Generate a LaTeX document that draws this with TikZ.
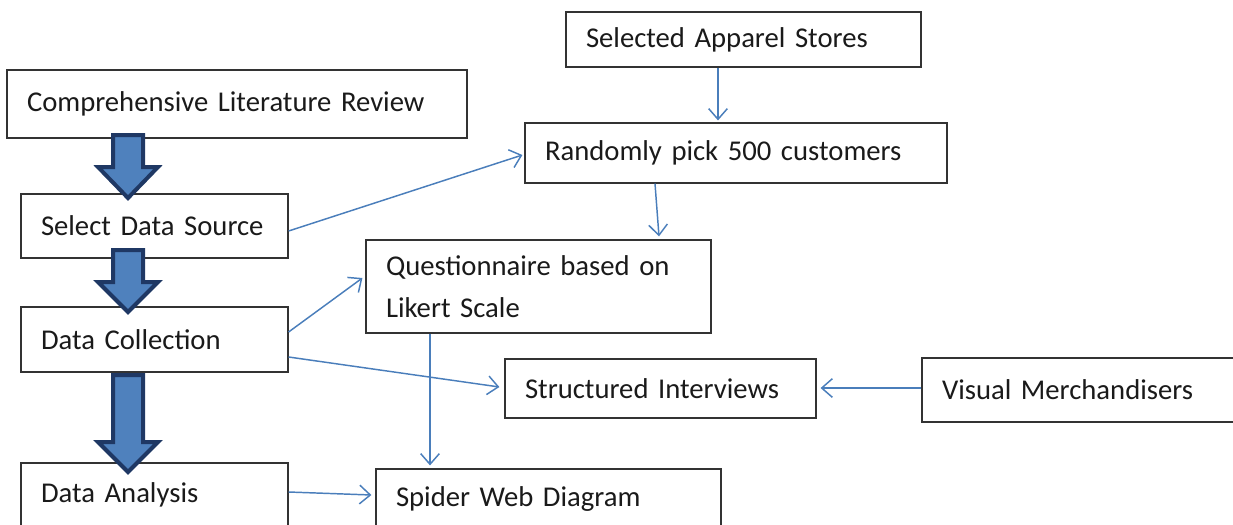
\documentclass[tikz,border=0pt]{standalone}
\usepackage{fontspec}
\setmainfont{Carlito}
\usetikzlibrary{calc,arrows.meta}
\definecolor{linkblue}{HTML}{4A7EBB}
\definecolor{arrowfill}{HTML}{4F81BD}
\definecolor{arrowedge}{HTML}{1F3864}
\definecolor{boxedge}{HTML}{333333}
\definecolor{inktext}{HTML}{1A1A1A}
\tikzset{
  box/.style={draw=boxedge, line width=0.9pt, fill=white, inner xsep=15pt, inner ysep=2pt,
    align=left, text=inktext, font=\fontsize{21.5}{31.5}\selectfont},
  conn/.style={draw=linkblue, line width=1.1pt, -{Straight Barb[length=8pt,width=14pt,line width=1.1pt]}},
  blockarrow/.style={fill=arrowfill, draw=arrowedge, line width=3pt, line join=miter}
}
\begin{document}
\begin{tikzpicture}[x=0.75pt, y=-0.75pt]
\useasboundingbox (0,0) rectangle (1233,525);
\clip (0,0) rectangle (1233,525);

% left column: process steps
\node[box, text width=315pt, minimum height=51pt] (lit) at (237,104) {Comprehensive Literature Review};
\node[box, text width=170.25pt, minimum height=48pt] (sds) at (154.5,226) {Select Data Source};
\node[box, text width=170.25pt, minimum height=48.75pt] (dc) at (154.5,339.5) {Data Collection};
\node[box, text width=170.25pt, minimum height=48pt] (da) at (154.5,495) {Data Analysis};

% sampling branch
\node[box, text width=236.25pt, minimum height=41.25pt] (sas) at (743.5,39.5) {Selected Apparel Stores};
\node[box, text width=286.5pt, minimum height=45pt] (rnd) at (736,153) {Randomly pick 500 customers};
\node[box, text width=228.75pt, minimum height=69.75pt] (q) at (538.5,286.5) {Questionnaire based on\\Likert Scale};
\node[box, text width=203.25pt, minimum height=44.25pt] (si) at (660.5,388.5) {Structured Interviews};
\node[box, text width=212.25pt, minimum height=48pt] (vm) at (1083.5,390) {Visual Merchandisers};
\node[box, text width=228.75pt, minimum height=45.75pt] (sw) at (548.5,499.5) {Spider Web Diagram};

% thick block arrows between the main steps
\draw[blockarrow] (113,135) -- (143,135) -- (143,167) -- (158,167) -- (128,198) -- (98,167) -- (113,167) -- cycle;
\draw[blockarrow] (113,250) -- (143,250) -- (143,282) -- (158,282) -- (128,312) -- (98,282) -- (113,282) -- cycle;
\draw[blockarrow] (113,375) -- (143,375) -- (143,442) -- (158,442) -- (128,472) -- (98,442) -- (113,442) -- cycle;

% thin connectors
\draw[conn] ($(sas.south)+(-25.5,0)$) -- ($(rnd.north)+(-18,-2)$);
\draw[conn] ($(rnd.south)+(-81,0)$) -- ($(q.north)+(120.5,-3)$);
\draw[conn] ($(sds.east)+(0,5)$) -- ($(rnd.west)+(-2,2)$);
\draw[conn] ($(dc.east)+(0,-7.5)$) -- ($(q.west)+(-3,-8.5)$);
\draw[conn] ($(dc.east)+(0,17.5)$) -- ($(si.west)+(-5,-1.5)$);
\draw[conn] ($(q.south)+(-108.5,0)$) -- ($(sw.north)+(-118.5,-3)$);
\draw[conn] ($(vm.west)+(0,-2)$) -- ($(si.east)+(4,-0.5)$);
\draw[conn] ($(da.east)+(0,-3)$) -- ($(sw.west)+(-4,-4.5)$);
\end{tikzpicture}
\end{document}
